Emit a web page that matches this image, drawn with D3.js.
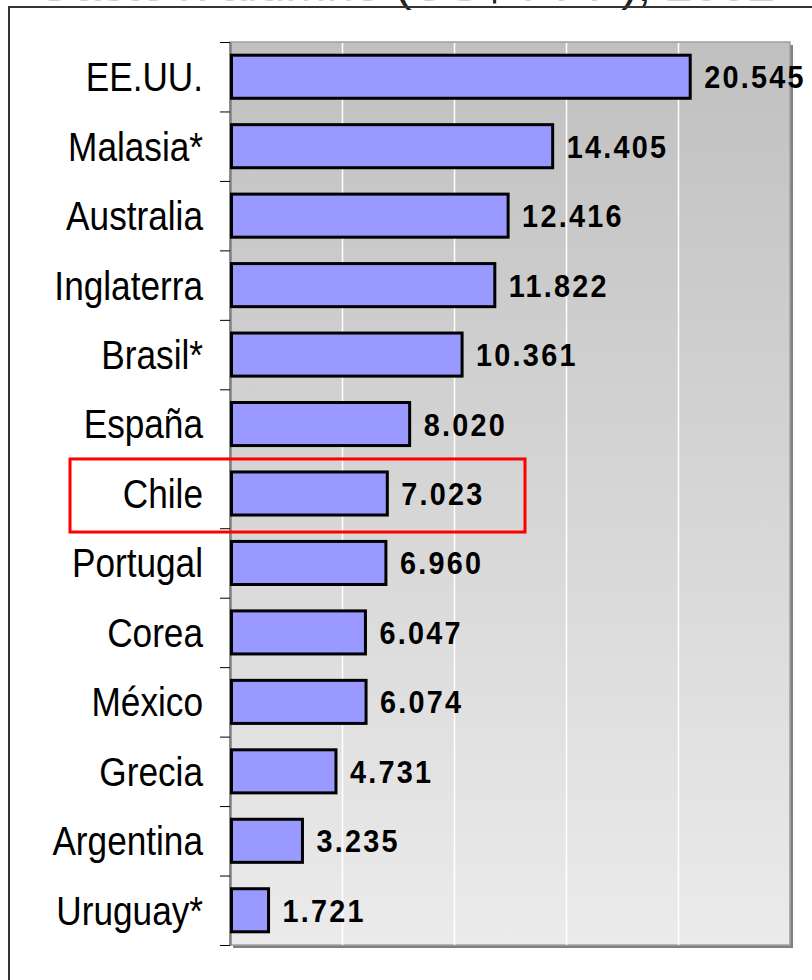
<!DOCTYPE html>
<html>
<head>
<meta charset="utf-8">
<script src="https://cdn.jsdelivr.net/npm/d3@7"></script>
<style>
  body { margin: 0; background: #fff; }
  svg { display: block; font-family: "Liberation Sans", Arial, sans-serif; }
</style>
</head>
<body>
<div id="chart"></div>
<script>
var width = 812, height = 980;

// data (US$ PPP por alumno)
var countries = ["EE.UU.", "Malasia*", "Australia", "Inglaterra", "Brasil*", "España", "Chile",
    "Portugal", "Corea", "México", "Grecia", "Argentina", "Uruguay*"];
var values = [20545, 14405, 12416, 11822, 10361, 8020, 7023, 6960, 6047, 6074, 4731, 3235, 1721];
var gridTicks = [5000, 10000, 15000, 20000];
var titleParts = [["Gasto x alumno ", 0], ["(", 1], ["US", 0], ["$", 1], [" PPP", 0], [")", 1], [",", 1], [" 2002", 0]];
var highlight = "Chile";

var plot = { left: 230, right: 790, top: 42, bottom: 945 };

var fmtVal = function (d) { return (d / 1000).toFixed(3); };

var x = d3.scaleLinear().domain([0, 25000]).range([plot.left, plot.right]);
var y = d3.scaleBand().domain(countries).range([plot.top, plot.bottom]).paddingInner(0.38).paddingOuter(0.19);
var yEdges = d3.scaleLinear().domain([0, countries.length]).range([plot.top, plot.bottom]);

var svg = d3.select("#chart").append("svg").attr("width", width).attr("height", height);

var defs = svg.append("defs");
var grad = defs.append("linearGradient").attr("id", "bg").attr("x1", 0).attr("y1", 0).attr("x2", 0).attr("y2", 1);
grad.append("stop").attr("offset", "0%").attr("stop-color", "#c0c0c0");
grad.append("stop").attr("offset", "100%").attr("stop-color", "#ebebeb");

// title, cut by the top edge
var title = svg.append("text")
    .attr("x", 35)
    .attr("y", 1)
    .attr("font-size", 44)
    .attr("textLength", 740)
    .attr("lengthAdjust", "spacingAndGlyphs");
title.selectAll("tspan")
    .data(titleParts)
    .enter().append("tspan")
    .attr("fill", function (d) { return d[1] ? "#222" : "#cfcfcf"; })
    .text(function (d) { return d[0]; });

// outer frame
svg.append("path")
    .attr("d", "M9," + (height + 5) + "V7H" + (width + 5))
    .attr("fill", "none")
    .attr("stroke", "#333")
    .attr("stroke-width", 2);

// plot shadow + background
svg.append("rect")
    .attr("x", plot.left + 3).attr("y", plot.top + 3)
    .attr("width", plot.right - plot.left).attr("height", plot.bottom - plot.top)
    .attr("fill", "#808080");
svg.append("rect")
    .attr("x", plot.left).attr("y", plot.top)
    .attr("width", plot.right - plot.left).attr("height", plot.bottom - plot.top)
    .attr("fill", "url(#bg)")
    .attr("stroke", "#a0a0a0")
    .attr("stroke-width", 1.5);

// gridlines
var grid = svg.append("g")
    .attr("transform", "translate(0," + plot.bottom + ")")
    .call(d3.axisBottom(x).tickValues(gridTicks).tickSize(-(plot.bottom - plot.top - 1)));
grid.select(".domain").remove();
grid.selectAll("text").remove();
grid.selectAll("line").attr("stroke", "#fff").attr("stroke-width", 1.5);

// left axis with ticks on category edges
var yAxis = svg.append("g")
    .attr("transform", "translate(" + plot.left + ",0)")
    .call(d3.axisLeft(yEdges).ticks(countries.length).tickSize(10).tickSizeOuter(0));
yAxis.selectAll("text").remove();
yAxis.selectAll("line").attr("stroke", "#000").attr("stroke-width", 1);
yAxis.select(".domain").attr("stroke", "#808080").attr("stroke-width", 2.5);

// bars
svg.append("g").selectAll("rect")
    .data(values)
    .enter().append("rect")
    .attr("x", x(0) + 1.5)
    .attr("y", function (d, i) { return y(countries[i]); })
    .attr("width", function (d) { return x(d) - x(0) - 1.5; })
    .attr("height", y.bandwidth())
    .attr("fill", "#9999ff")
    .attr("stroke", "#000")
    .attr("stroke-width", 3);

// value labels
svg.append("g").selectAll("text")
    .data(values)
    .enter().append("text")
    .attr("transform", function (d, i) {
        return "translate(" + (x(d) + 14) + "," + (y(countries[i]) + y.bandwidth() / 2) + ") scale(0.9,1)";
    })
    .attr("dy", "0.36em")
    .attr("font-size", 32)
    .attr("font-weight", "bold")
    .attr("letter-spacing", 2.5)
    .attr("fill", "#000")
    .text(function (d) { return fmtVal(d); });

// category labels
svg.append("g").selectAll("text")
    .data(countries)
    .enter().append("text")
    .attr("transform", function (d) {
        return "translate(203," + (y(d) + y.bandwidth() / 2) + ") scale(0.88,1)";
    })
    .attr("dy", "0.36em")
    .attr("text-anchor", "end")
    .attr("font-size", 40)
    .attr("fill", "#000")
    .text(function (d) { return d; });

// highlight box
svg.append("rect")
    .attr("x", 70)
    .attr("y", y(highlight) - 13)
    .attr("width", 455)
    .attr("height", y.bandwidth() + 30)
    .attr("fill", "none")
    .attr("stroke", "#ff0000")
    .attr("stroke-width", 3);
</script>
</body>
</html>
